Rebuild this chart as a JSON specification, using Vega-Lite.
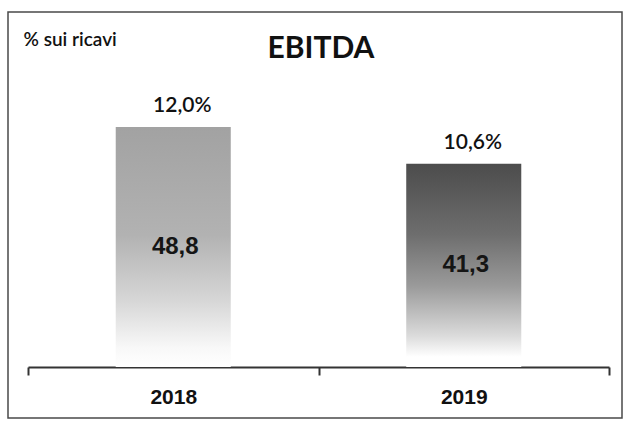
{
  "$schema": "https://vega.github.io/schema/vega-lite/v6.json",
  "width": 614,
  "height": 406,
  "autosize": {"type": "none"},
  "padding": {"left": 8, "top": 12, "right": 5, "bottom": 3},
  "background": "white",
  "config": {
    "view": {"stroke": "#4a4a4a", "strokeWidth": 1.5},
    "locale": {"number": {"decimal": ",", "thousands": ".", "grouping": [3], "currency": ["", " €"]}}
  },
  "title": {
    "text": "EBITDA",
    "font": "Lato",
    "fontWeight": "bold",
    "fontSize": 30,
    "color": "#111111",
    "anchor": "middle",
    "frame": "group",
    "baseline": "alphabetic",
    "offset": 0,
    "dy": 76,
    "dx": 6
  },
  "data": {
    "values": [
      {"year": "2018", "ebitda": 48.8, "margin": 0.12},
      {"year": "2019", "ebitda": 41.3, "margin": 0.106}
    ]
  },
  "encoding": {
    "x": {
      "field": "year",
      "type": "nominal",
      "scale": {"range": [20, 601], "paddingInner": 0, "paddingOuter": 0},
      "axis": {
        "title": null,
        "orient": "bottom",
        "offset": -51,
        "domainColor": "#333333",
        "domainWidth": 2,
        "tickColor": "#333333",
        "tickWidth": 2,
        "tickSize": 8,
        "tickBand": "extent",
        "labelAngle": 0,
        "labelFont": "Liberation Sans",
        "labelFontWeight": "bold",
        "labelFontSize": 21,
        "labelColor": "#111111",
        "labelBaseline": "alphabetic",
        "labelPadding": 28
      }
    }
  },
  "layer": [
    {
      "mark": {"type": "bar", "width": {"band": 0.396}},
      "encoding": {
        "y": {
          "field": "ebitda",
          "type": "quantitative",
          "scale": {"domain": [0, 60], "range": [355, 59.8], "nice": false},
          "axis": {
            "title": "% sui ricavi",
            "domain": false,
            "ticks": false,
            "labels": false,
            "grid": false,
            "titleAngle": 0,
            "titleAlign": "left",
            "titleBaseline": "alphabetic",
            "titleX": 15,
            "titleY": 33,
            "titleFont": "Lato",
            "titleFontSize": 19,
            "titleFontWeight": 600,
            "titleColor": "#111111"
          }
        },
        "fill": {
          "condition": {
            "test": "datum.year === '2018'",
            "value": {
              "gradient": "linear", "x1": 0, "y1": 0, "x2": 0, "y2": 1,
              "stops": [
                {"offset": 0, "color": "#a2a2a2"},
                {"offset": 0.45, "color": "#b2b2b2"},
                {"offset": 0.72, "color": "#d6d6d6"},
                {"offset": 0.92, "color": "#f8f8f8"},
                {"offset": 1, "color": "#ffffff"}
              ]
            }
          },
          "value": {
            "gradient": "linear", "x1": 0, "y1": 0, "x2": 0, "y2": 1,
            "stops": [
              {"offset": 0, "color": "#4c4c4c"},
              {"offset": 0.35, "color": "#6e6e6e"},
              {"offset": 0.6, "color": "#9a9a9a"},
              {"offset": 0.85, "color": "#dcdcdc"},
              {"offset": 0.95, "color": "#ffffff"},
              {"offset": 1, "color": "#ffffff"}
            ]
          }
        }
      }
    },
    {
      "mark": {"type": "text", "dy": -15, "dx": 9, "baseline": "alphabetic", "font": "Lato", "fontSize": 21, "fontWeight": 600, "color": "#111111"},
      "encoding": {
        "y": {"field": "ebitda", "type": "quantitative", "scale": {"domain": [0, 60], "range": [355, 59.8], "nice": false}, "axis": null},
        "text": {"field": "margin", "type": "quantitative", "format": ".1%"}
      }
    },
    {
      "mark": {"type": "text", "baseline": "middle", "dx": 2, "font": "Liberation Sans", "fontSize": 24, "fontWeight": "bold", "color": "#151515"},
      "encoding": {
        "y": {"field": "ebitda", "type": "quantitative", "scale": {"domain": [0, 120], "range": [355, 59.8], "nice": false}, "axis": null},
        "text": {"field": "ebitda", "type": "quantitative", "format": ".1f"}
      }
    }
  ],
  "resolve": {"scale": {"y": "independent"}}
}
